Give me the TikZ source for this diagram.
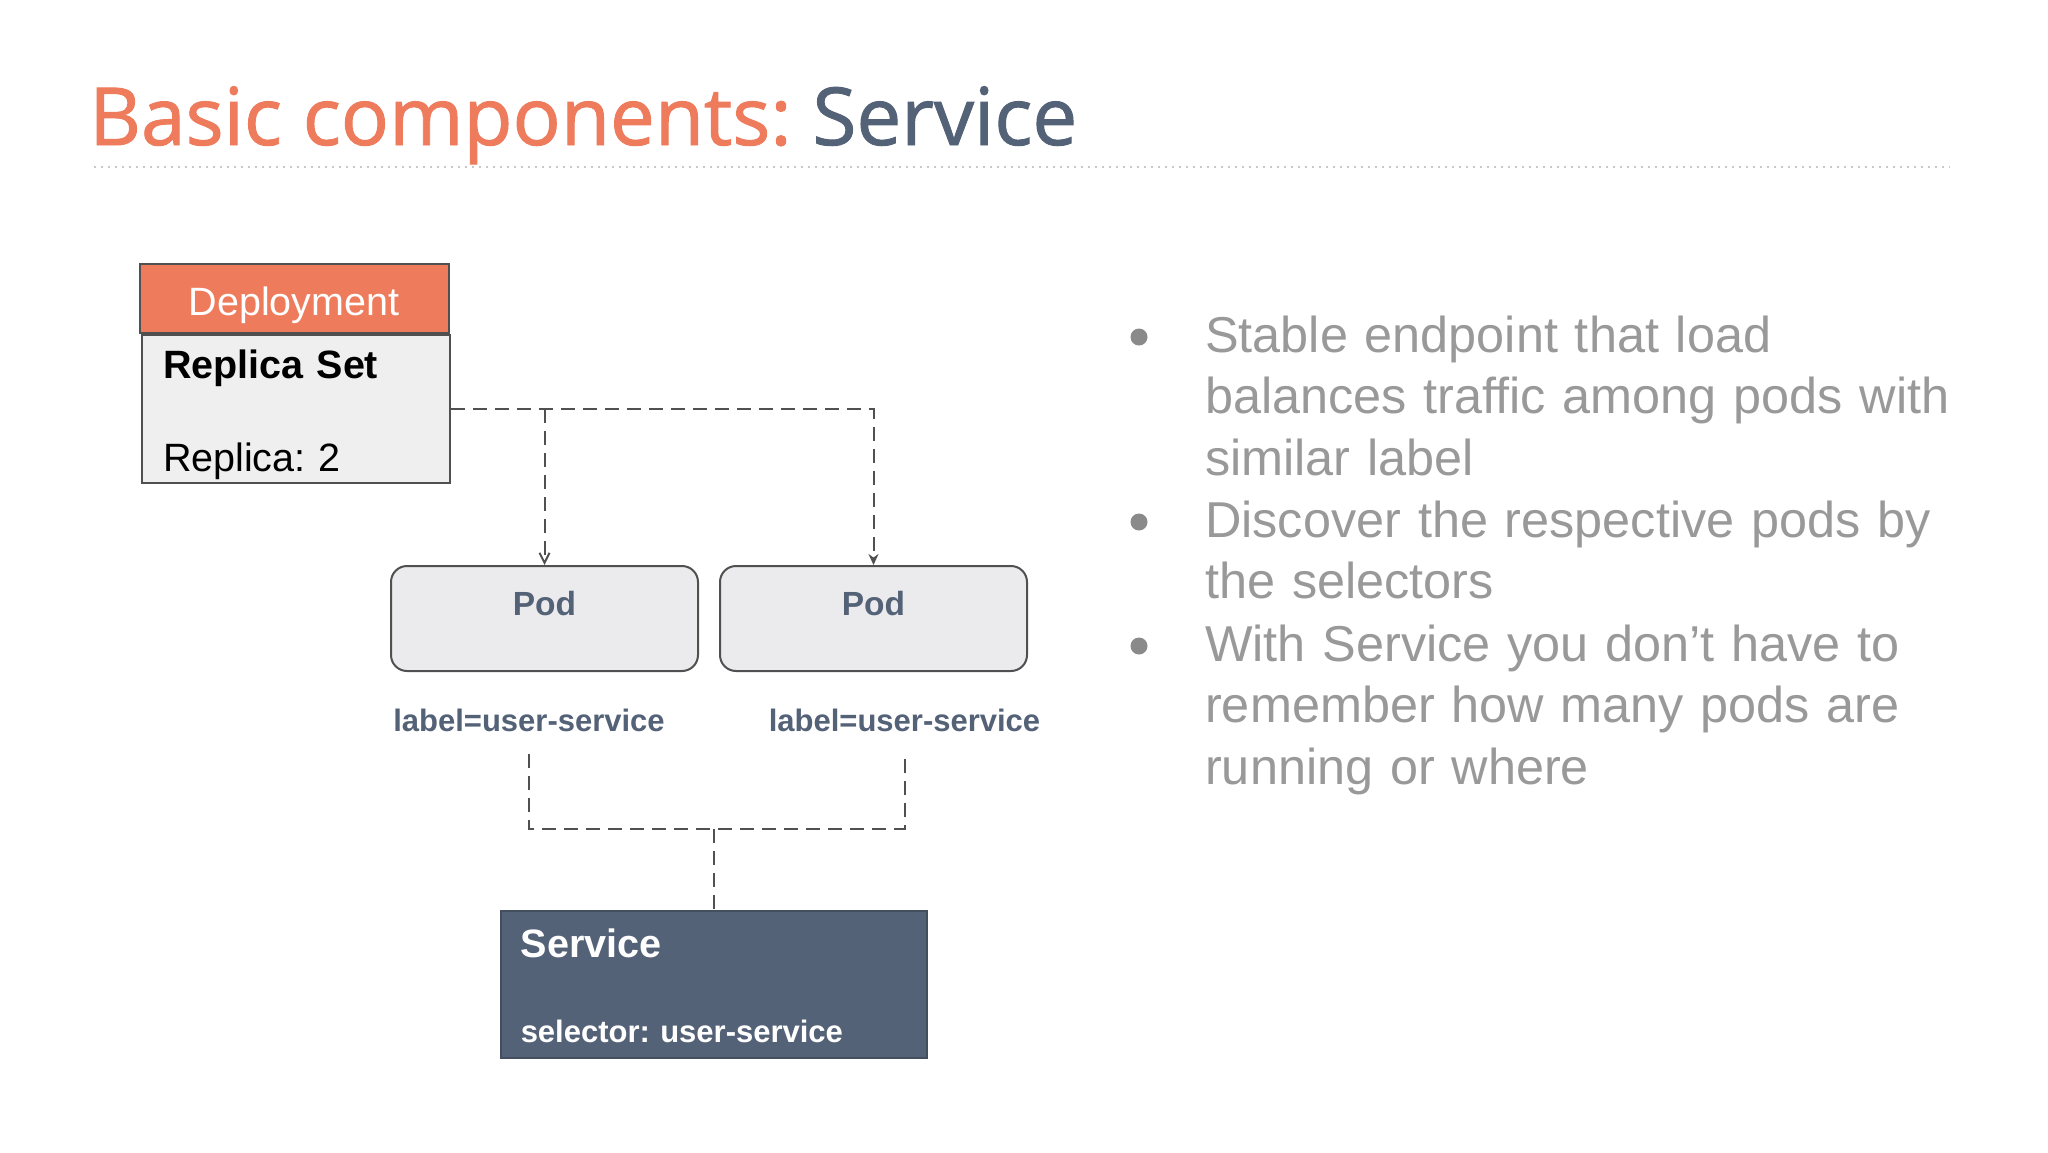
\documentclass[tikz,border=0pt]{standalone}
\usepackage{fontspec}
\setmainfont{Liberation Sans}
\newfontfamily\titlefont[FakeBold=1.2]{Open Sans}
\usetikzlibrary{arrows.meta, positioning}
\definecolor{slideorange}{RGB}{238,123,92}
\definecolor{slateblue}{RGB}{84,98,119}
\definecolor{bordergray}{RGB}{80,80,80}
\definecolor{boxgray}{RGB}{239,239,239}
\definecolor{podgray}{RGB}{235,235,237}
\definecolor{bulletgray}{RGB}{153,153,153}
\definecolor{rulegray}{RGB}{200,200,200}
\frenchspacing

\begin{document}
\begin{tikzpicture}[x=1pt, y=-1pt,
    deploybox/.style={rectangle, draw=bordergray, fill=slideorange, line width=2pt, minimum width=309pt, inner sep=0pt, text height=51pt, text depth=18pt, text=white, font=\fontsize{39.5}{47}\selectfont},
    rsbox/.style={rectangle, draw=bordergray, fill=boxgray, line width=2pt, align=left, text width=266pt, inner xsep=21pt, inner ysep=4pt, font=\fontsize{39.5}{93}\selectfont},
    podbox/.style={rectangle, draw=bordergray, fill=podgray, line width=2pt, rounded corners=16pt, minimum width=307pt, inner sep=0pt, text height=49pt, text depth=56pt, text=slateblue, font=\fontsize{33.5}{40}\selectfont\bfseries},
    podlabel/.style={anchor=base, inner sep=0pt, text depth=23pt, text=slateblue, font=\fontsize{31}{37}\selectfont\bfseries},
    svcbox/.style={rectangle, draw=slateblue!80!black, fill=slateblue, line width=1.5pt, align=left, text width=386pt, inner xsep=20pt, inner ysep=0pt, text=white, font=\fontsize{31}{85}\selectfont\bfseries},
    bullettext/.style={anchor=base west, inner sep=0pt, align=left, text width=800pt, text=bulletgray, font=\fontsize{50.4}{61.8}\selectfont},
    link/.style={draw=bordergray, line width=2pt, dash pattern=on 14pt off 8pt}
  ]
  \fill[white] (0,0) rectangle (2048,1152);
  \useasboundingbox (0,0) rectangle (2048,1152);

  % heading
  \node (title) [anchor=base west, inner sep=0pt, font=\titlefont\fontsize{80}{96}\selectfont] at (89,145) {\textcolor{slideorange}{Basic components:} \textcolor{slateblue}{Service}};
  \draw[rulegray, line width=2pt, dash pattern=on 2pt off 5pt] (94,167) -- (1950,167);

  % diagram
  \node (rs) [rsbox, anchor=north west] at (141,334) {\rule{0pt}{39pt}\textbf{Replica Set}\\Replica: 2};
  \node (deploy) [deploybox, above=0pt of rs, xshift=-2pt] {Deployment};
  \node (pod1) [podbox, anchor=north west] at (390,565) {Pod};
  \node (pod2) [podbox, right=20pt of pod1] {Pod};
  \node (lbl1) [podlabel] at (529,731) {label=user-service};
  \node (lbl2) [podlabel] at (904.5,731) {label=user-service};
  \node (svc) [svcbox, anchor=north west] at (500,910) {\rule{0pt}{47pt}{\fontsize{39.6}{85}\selectfont Service}\\selector: user-service\rule[-15pt]{0pt}{15pt}};

  \draw[link, -{Stealth[length=11pt, width=10pt]}] (rs.east) -| (pod2.north);
  \draw[link, -{Straight Barb[length=10pt, width=10pt]}] (rs.east -| pod1.north) -- (pod1.north);
  \coordinate (bus) at (svc.north |- 0,829);
  \draw[link] (lbl1.south) |- (bus) -| (lbl2.south);
  \draw[link] (bus) -- (svc.north);

  % bullet list
  \node (b1) [bullettext] at (1205,352) {Stable endpoint that load\\balances traffic among pods with\\similar label};
  \node (b2) [bullettext] at (1205,537) {Discover the respective pods by\\the selectors};
  \node (b3) [bullettext] at (1205,661) {With Service you don’t have to\\remember how many pods are\\running or where};
  \foreach \b in {b1,b2,b3}
    \fill[bulletgray!90!black] ([xshift=-66pt, yshift=15pt]\b.base west) circle (8.5pt);
\end{tikzpicture}
\end{document}
